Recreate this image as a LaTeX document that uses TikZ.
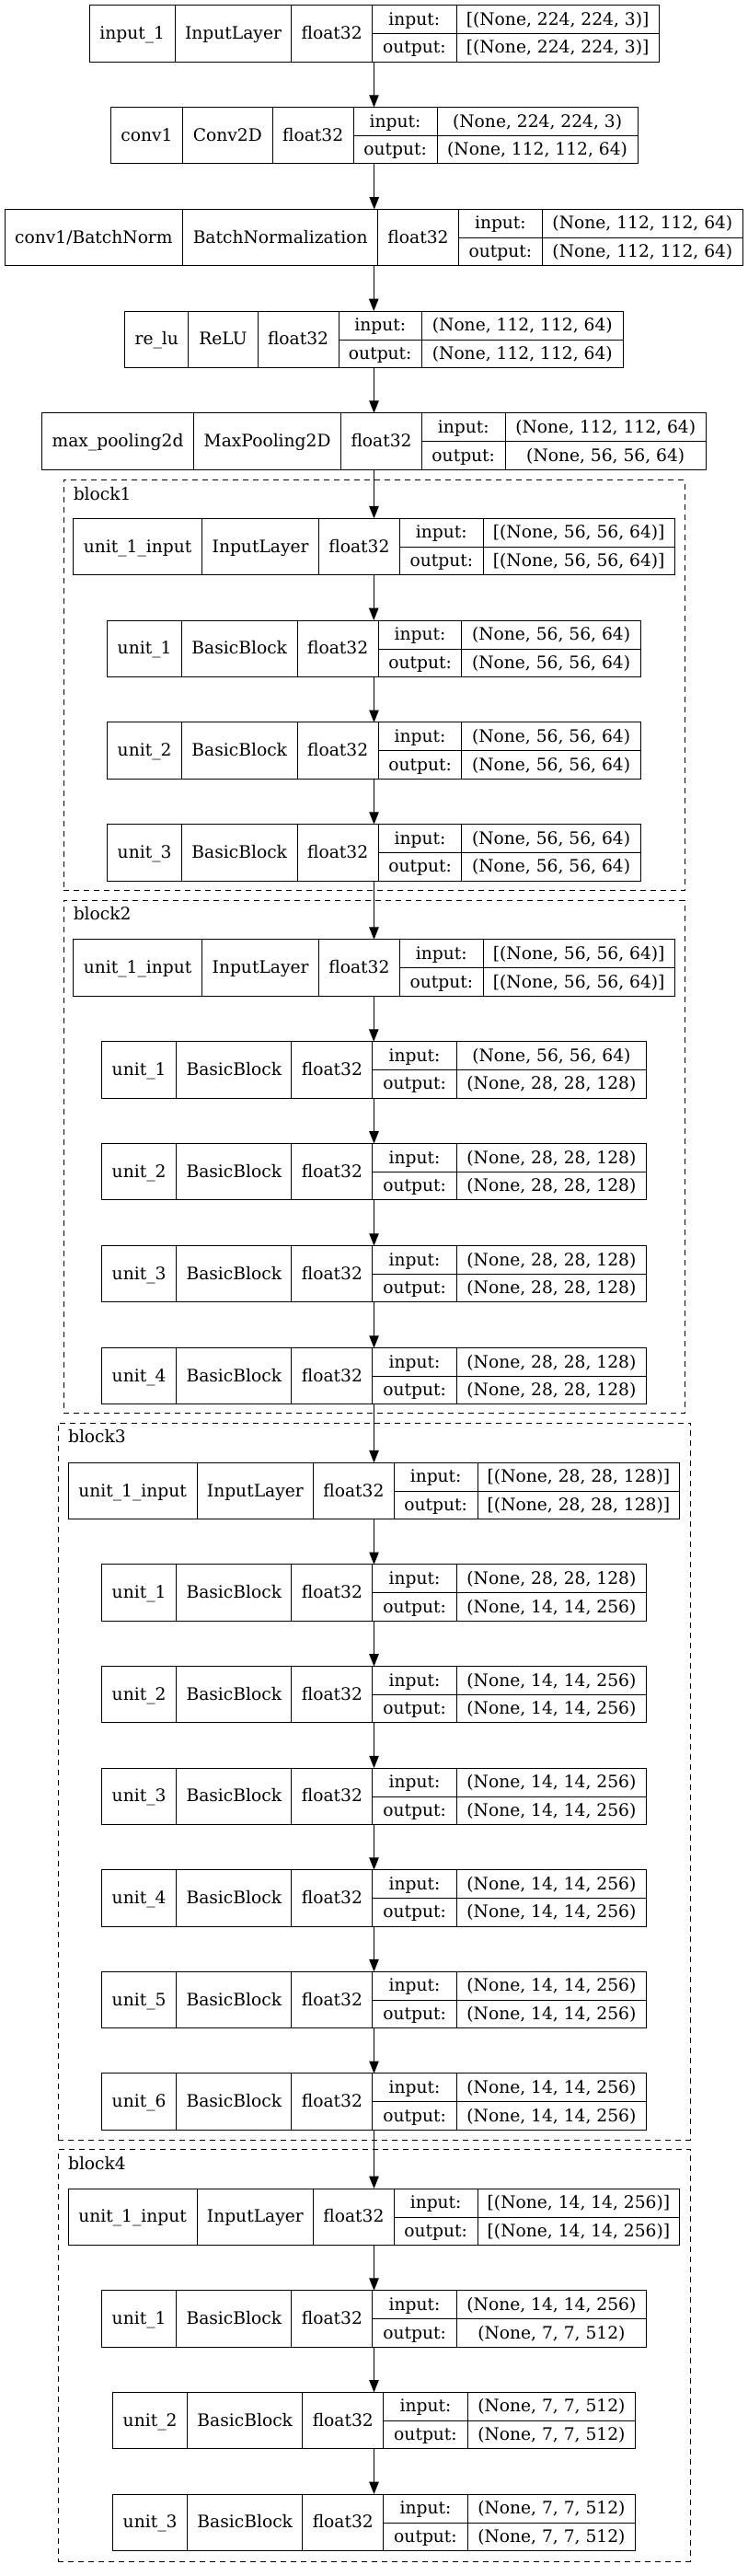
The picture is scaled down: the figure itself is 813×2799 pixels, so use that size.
\documentclass[tikz,border=0pt]{standalone}
\usepackage{fontspec}
\setmainfont{DejaVu Serif}
\usetikzlibrary{arrows.meta}
\newcommand\setcols[6]{\def\cA{#1}\def\cB{#2}\def\cC{#3}\def\cD{#4}\def\cE{#5}\def\cF{#6}}
\newcommand\layerbox[6]{%
  \pgfmathsetmacro\yT{#2}%
  \pgfmathsetmacro\yB{#2+61.3}%
  \pgfmathsetmacro\yM{#2+31}%
  \pgfmathsetmacro\bW{(\cF-\cA)*0.75}%
  \node[layer, minimum width=\bW pt, anchor=north west] (#1) at (\cA,\yT) {};
  \draw[cell] (\cB,\yT) -- (\cB,\yB) (\cC,\yT) -- (\cC,\yB) (\cD,\yT) -- (\cD,\yB) (\cE,\yT) -- (\cE,\yB) (\cD,\yM) -- (\cF,\yM);
  \node[txt] (#1-name) at ({(\cA+\cB)/2},{\yT+36.7}) {#3};
  \node[txt] (#1-cls) at ({(\cB+\cC)/2},{\yT+36.7}) {#4};
  \node[txt] (#1-dt) at ({(\cC+\cD)/2},{\yT+36.7}) {float32};
  \node[txt] (#1-il) at ({(\cD+\cE)/2},{\yT+21.5}) {input:};
  \node[txt] (#1-iv) at ({(\cE+\cF)/2},{\yT+21.5}) {#5};
  \node[txt] (#1-ol) at ({(\cD+\cE)/2},{\yT+52.2}) {output:};
  \node[txt] (#1-ov) at ({(\cE+\cF)/2},{\yT+52.2}) {#6};
}
\newcommand\clusterbox[6]{%
  \pgfmathsetmacro\bW{(#4-#2)*0.75}%
  \pgfmathsetmacro\bH{(#5-#3)*0.75}%
  \node[cluster, minimum width=\bW pt, minimum height=\bH pt, anchor=north west] (#1) at (#2,#3) {};
  \node[txt, anchor=base west] (#1-label) at ({#2+10.5},{#3+21.5}) {#6};
}
\begin{document}
\begin{tikzpicture}[x=0.75pt,y=-0.75pt,
  layer/.style={draw=black, line width=0.75pt, rectangle, inner sep=0pt, outer sep=0pt, minimum height=45.975pt},
  cell/.style={draw=black, line width=0.75pt},
  txt/.style={font=\fontsize{14pt}{16pt}\selectfont, anchor=base, inner sep=0pt},
  cluster/.style={draw=black, line width=0.75pt, dash pattern=on 4.5pt off 3.75pt, rectangle, inner sep=0pt, outer sep=0pt},
  flow/.style={-{Triangle[length=10pt,width=7.8pt]}, line width=0.75pt}]
\useasboundingbox (0,0) rectangle (813,2799);

% clusters
\clusterbox{block1}{69.0}{521.5}{744.0}{967.6}{block1}
\clusterbox{block2}{69.0}{978.4}{744.0}{1535.5}{block2}
\clusterbox{block3}{63.3}{1546.0}{750.3}{2325.2}{block3}
\clusterbox{block4}{63.3}{2335.6}{750.3}{2783.0}{block4}

% top layers
\setcols{97.0}{190.3}{316.8}{404.4}{496.2}{716.0}
\layerbox{in1}{5.7}{input\_1}{InputLayer}{[(None, 224, 224, 3)]}{[(None, 224, 224, 3)]}
\setcols{120.3}{198.6}{296.1}{384.2}{475.0}{693.2}
\layerbox{conv1}{116.6}{conv1}{Conv2D}{(None, 224, 224, 3)}{(None, 112, 112, 64)}
\setcols{5.2}{198.6}{410.7}{498.3}{589.5}{807.3}
\layerbox{bn}{227.4}{conv1/BatchNorm}{BatchNormalization}{(None, 112, 112, 64)}{(None, 112, 112, 64)}
\setcols{135.8}{204.8}{280.0}{368.1}{458.4}{677.2}
\layerbox{relu}{338.0}{re\_lu}{ReLU}{(None, 112, 112, 64)}{(None, 112, 112, 64)}
\setcols{45.6}{210.5}{370.7}{458.4}{549.1}{767.4}
\layerbox{mp}{448.8}{max\_pooling2d}{MaxPooling2D}{(None, 112, 112, 64)}{(None, 56, 56, 64)}

% block1
\setcols{79.3}{219.8}{346.4}{434.5}{525.2}{733.2}
\layerbox{b1u0}{563.3}{unit\_1\_input}{InputLayer}{[(None, 56, 56, 64)]}{[(None, 56, 56, 64)]}
\setcols{116.7}{197.5}{323.0}{411.2}{501.9}{696.3}
\layerbox{b1u1}{674.0}{unit\_1}{BasicBlock}{(None, 56, 56, 64)}{(None, 56, 56, 64)}
\layerbox{b1u2}{784.9}{unit\_2}{BasicBlock}{(None, 56, 56, 64)}{(None, 56, 56, 64)}
\layerbox{b1u3}{895.7}{unit\_3}{BasicBlock}{(None, 56, 56, 64)}{(None, 56, 56, 64)}

% block2
\setcols{79.3}{219.8}{346.4}{434.5}{525.2}{733.2}
\layerbox{b2u0}{1020.8}{unit\_1\_input}{InputLayer}{[(None, 56, 56, 64)]}{[(None, 56, 56, 64)]}
\setcols{110.4}{191.8}{316.8}{404.9}{496.2}{702.6}
\layerbox{b2u1}{1131.7}{unit\_1}{BasicBlock}{(None, 56, 56, 64)}{(None, 28, 28, 128)}
\layerbox{b2u2}{1242.5}{unit\_2}{BasicBlock}{(None, 28, 28, 128)}{(None, 28, 28, 128)}
\layerbox{b2u3}{1353.6}{unit\_3}{BasicBlock}{(None, 28, 28, 128)}{(None, 28, 28, 128)}
\layerbox{b2u4}{1464.6}{unit\_4}{BasicBlock}{(None, 28, 28, 128)}{(None, 28, 28, 128)}

% block3
\setcols{74.1}{214.1}{340.6}{428.3}{519.0}{738.9}
\layerbox{b3u0}{1589.3}{unit\_1\_input}{InputLayer}{[(None, 28, 28, 128)]}{[(None, 28, 28, 128)]}
\setcols{110.4}{191.8}{316.8}{404.9}{496.2}{702.6}
\layerbox{b3u1}{1699.9}{unit\_1}{BasicBlock}{(None, 28, 28, 128)}{(None, 14, 14, 256)}
\layerbox{b3u2}{1810.5}{unit\_2}{BasicBlock}{(None, 14, 14, 256)}{(None, 14, 14, 256)}
\layerbox{b3u3}{1921.1}{unit\_3}{BasicBlock}{(None, 14, 14, 256)}{(None, 14, 14, 256)}
\layerbox{b3u4}{2031.7}{unit\_4}{BasicBlock}{(None, 14, 14, 256)}{(None, 14, 14, 256)}
\layerbox{b3u5}{2142.3}{unit\_5}{BasicBlock}{(None, 14, 14, 256)}{(None, 14, 14, 256)}
\layerbox{b3u6}{2252.9}{unit\_6}{BasicBlock}{(None, 14, 14, 256)}{(None, 14, 14, 256)}

% block4
\setcols{74.1}{214.1}{340.6}{428.3}{519.0}{738.9}
\layerbox{b4u0}{2378.0}{unit\_1\_input}{InputLayer}{[(None, 14, 14, 256)]}{[(None, 14, 14, 256)]}
\setcols{110.4}{191.8}{316.8}{404.9}{496.2}{702.6}
\layerbox{b4u1}{2488.8}{unit\_1}{BasicBlock}{(None, 14, 14, 256)}{(None, 7, 7, 512)}
\setcols{122.4}{203.8}{328.7}{416.9}{508.1}{690.6}
\layerbox{b4u2}{2599.4}{unit\_2}{BasicBlock}{(None, 7, 7, 512)}{(None, 7, 7, 512)}
\layerbox{b4u3}{2710.0}{unit\_3}{BasicBlock}{(None, 7, 7, 512)}{(None, 7, 7, 512)}

% connectors
\foreach \a/\b in {in1/conv1, conv1/bn, bn/relu, relu/mp, mp/b1u0,
  b1u0/b1u1, b1u1/b1u2, b1u2/b1u3, b1u3/b2u0,
  b2u0/b2u1, b2u1/b2u2, b2u2/b2u3, b2u3/b2u4, b2u4/b3u0,
  b3u0/b3u1, b3u1/b3u2, b3u2/b3u3, b3u3/b3u4, b3u4/b3u5, b3u5/b3u6, b3u6/b4u0,
  b4u0/b4u1, b4u1/b4u2, b4u2/b4u3}
  \draw[flow] (\a.south) -- (\a.south |- \b.north);
\end{tikzpicture}
\end{document}
